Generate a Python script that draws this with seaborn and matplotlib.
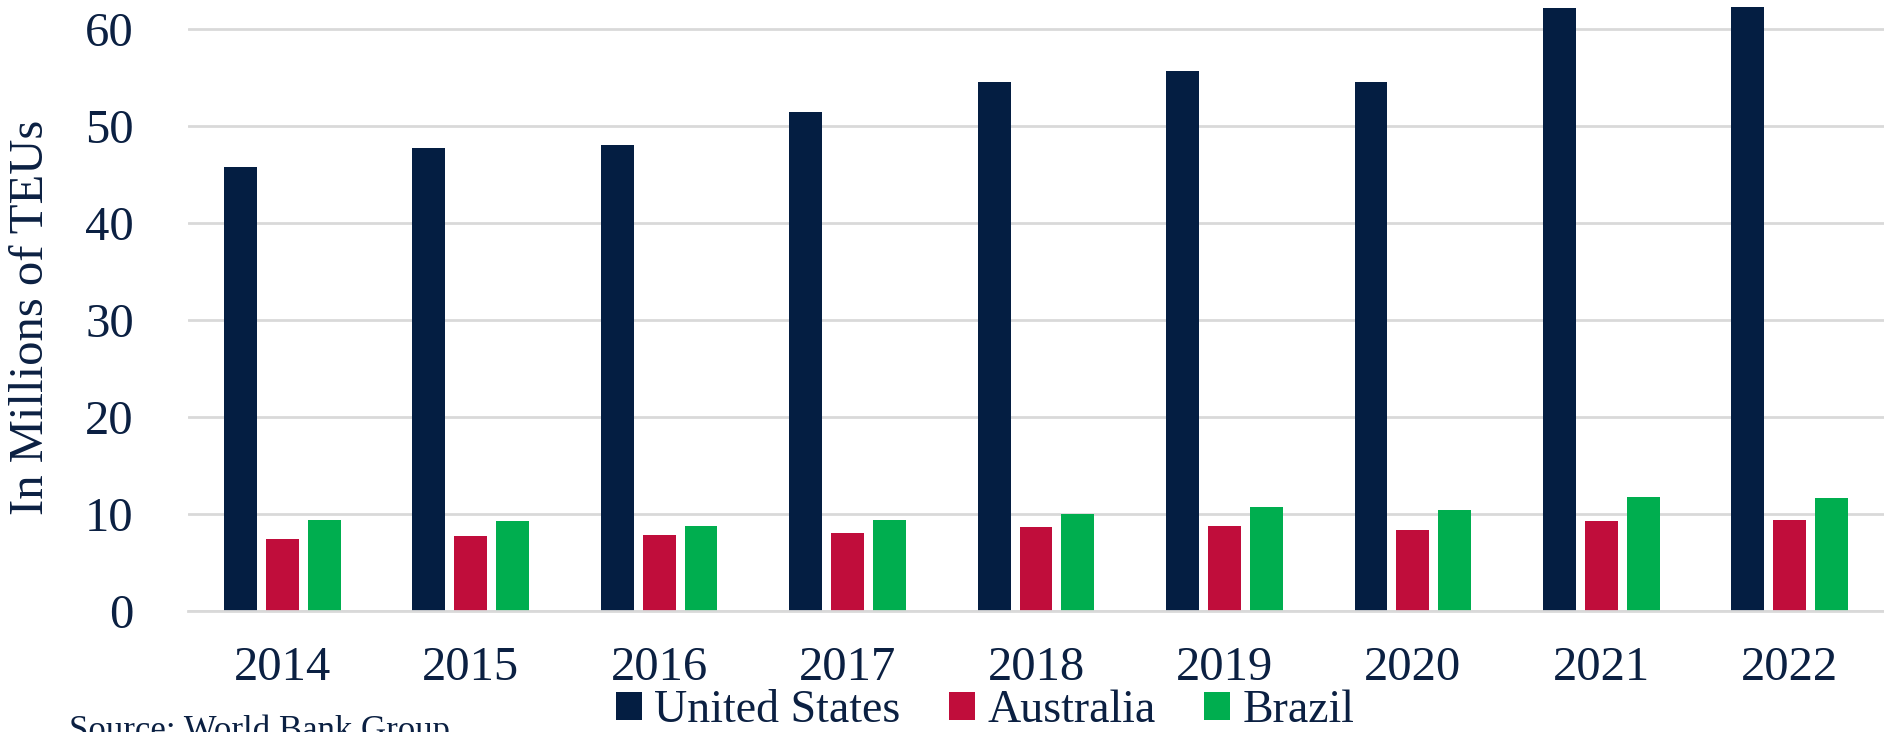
import matplotlib
matplotlib.use("Agg")
import matplotlib.pyplot as plt
import seaborn as sns
import pandas as pd

years = ["2014", "2015", "2016", "2017", "2018", "2019", "2020", "2021", "2022"]
united_states = [45.8, 47.7, 48.1, 51.5, 54.5, 55.7, 54.5, 62.2, 62.3]
australia = [7.4, 7.7, 7.8, 8.0, 8.7, 8.8, 8.4, 9.3, 9.4]
brazil = [9.4, 9.3, 8.8, 9.4, 10.0, 10.7, 10.4, 11.8, 11.7]
series_names = ["United States", "Australia", "Brazil"]
colors = ["#041E42", "#C00D3B", "#00AE4F"]
y_ticks = [0, 10, 20, 30, 40, 50, 60]

rows = []
for name, vals in zip(series_names, [united_states, australia, brazil]):
    for y, v in zip(years, vals):
        rows.append({"Year": y, "Country": name, "TEU": v})
df = pd.DataFrame(rows)

sns.set_theme(style="white")
plt.rcParams["font.family"] = ["Liberation Serif", "DejaVu Serif"]
text_color = "#0B2042"

W, H = 1884, 732
fig = plt.figure(figsize=(W / 100, H / 100), dpi=100)
ax = fig.add_axes([188 / W, 121 / H, 1696 / W, 611 / H])

sns.barplot(data=df, x="Year", y="TEU", hue="Country", order=years,
            hue_order=series_names, palette=colors, saturation=1,
            width=0.667, gap=0.214, linewidth=0, ax=ax, legend=True)

ax.set_xlim(-0.5, len(years) - 0.5)
ax.set_ylim(0, 63.0)
ax.set_yticks(y_ticks)
ax.set_yticklabels([str(t) for t in y_ticks])
ax.yaxis.grid(True, color="#D9D9D9", linewidth=2)
ax.set_axisbelow(True)
for s in ["top", "right", "left"]:
    ax.spines[s].set_visible(False)
ax.spines["bottom"].set_color("#D9D9D9")
ax.spines["bottom"].set_linewidth(2)
ax.tick_params(axis="both", length=0, labelsize=35, labelcolor=text_color)
ax.tick_params(axis="y", pad=39)
ax.tick_params(axis="x", pad=25)
ax.set_xlabel("")
ax.set_ylabel("In Millions of TEUs", fontsize=35, color=text_color)
ax.yaxis.set_label_coords(-0.0796, 0.48)

ax.legend_.remove()
handles, labels = ax.get_legend_handles_labels()
fig.legend(handles, labels, loc="center", bbox_to_anchor=(985 / W, 21 / H),
           ncol=3, frameon=False, fontsize=33, labelcolor=text_color,
           handlelength=0.57, handleheight=0.57, handletextpad=0.27,
           columnspacing=1.05, borderaxespad=0, borderpad=0)

fig.text(69 / W, (H - 714) / H, "Source: World Bank Group", fontsize=25,
         color=text_color, va="top", ha="left")

fig.savefig("out.png", dpi=100)
